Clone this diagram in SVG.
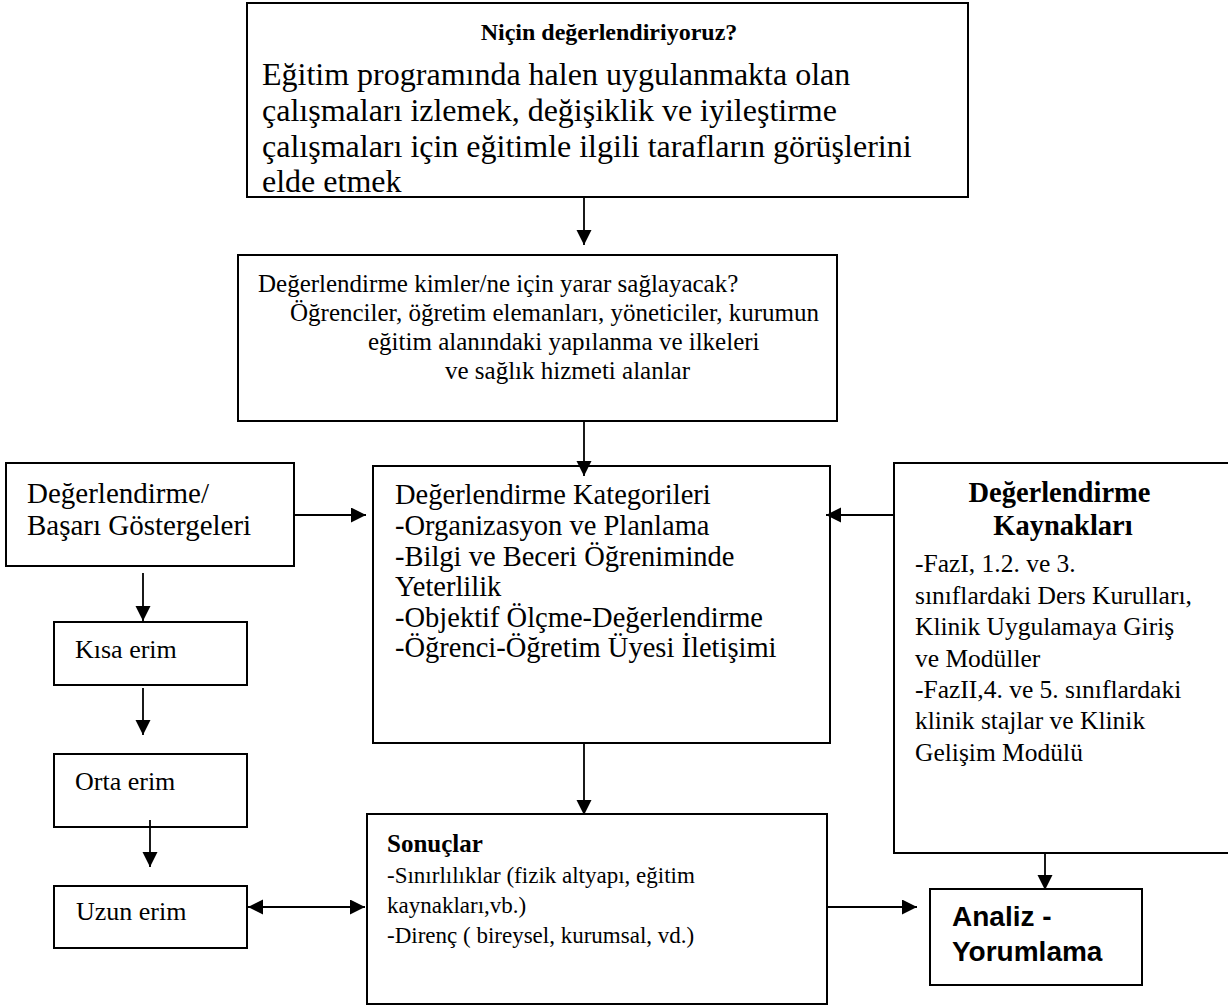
<svg xmlns="http://www.w3.org/2000/svg" width="1228" height="1006" viewBox="0 0 1228 1006">
<style>
.box{fill:#fff;stroke:#000;stroke-width:2}
.t{font-family:"Liberation Serif","Times New Roman",serif;fill:#000}
.b{font-weight:bold}
.s{font-family:"Liberation Sans",Arial,sans-serif;font-weight:bold;fill:#000}
.c{fill:none;stroke:#000;stroke-width:1.8}
</style>
<defs>
<marker id="ah" markerUnits="userSpaceOnUse" markerWidth="16" markerHeight="16" refX="15" refY="7.5" orient="auto-start-reverse" viewBox="0 0 16 16">
<path d="M0,0 L15,7.5 L0,15 z" fill="#000"/>
</marker>
</defs>
<rect width="1228" height="1006" fill="#fff"/>

<g id="neden">
<rect class="box" x="247" y="3" width="721" height="194"/>
<text class="t b" x="609" y="40" font-size="24" text-anchor="middle">Niçin değerlendiriyoruz?</text>
<text class="t" font-size="32">
<tspan x="262" y="85">Eğitim programında halen uygulanmakta olan</tspan>
<tspan x="262" y="121">çalışmaları izlemek, değişiklik ve iyileştirme</tspan>
<tspan x="262" y="157">çalışmaları için eğitimle ilgili tarafların görüşlerini</tspan>
<tspan x="262" y="192">elde etmek</tspan>
</text>
</g>

<g id="kimler">
<rect class="box" x="238" y="255" width="599" height="166"/>
<text class="t" font-size="25">
<tspan x="258" y="292">Değerlendirme kimler/ne için yarar sağlayacak?</tspan>
<tspan x="290" y="321">Öğrenciler, öğretim elemanları, yöneticiler, kurumun</tspan>
<tspan x="368" y="350">eğitim alanındaki yapılanma ve ilkeleri</tspan>
<tspan x="445" y="379">ve sağlık hizmeti alanlar</tspan>
</text>
</g>

<g id="gostergeler">
<rect class="box" x="6" y="463" width="288" height="103"/>
<text class="t" font-size="29">
<tspan x="27" y="503">Değerlendirme/</tspan>
<tspan x="27" y="535">Başarı Göstergeleri</tspan>
</text>
</g>

<g id="kategoriler">
<rect class="box" x="373" y="466" width="457" height="277"/>
<text class="t" font-size="28.5">
<tspan x="395" y="504">Değerlendirme Kategorileri</tspan>
<tspan x="395" y="535">-Organizasyon ve Planlama</tspan>
<tspan x="395" y="566">-Bilgi ve Beceri Öğreniminde</tspan>
<tspan x="395" y="596">Yeterlilik</tspan>
<tspan x="395" y="627">-Objektif Ölçme-Değerlendirme</tspan>
<tspan x="395" y="657">-Öğrenci-Öğretim Üyesi İletişimi</tspan>
</text>
</g>

<g id="kaynaklar">
<rect class="box" x="894" y="463" width="350" height="390"/>
<text class="t b" font-size="28.5" text-anchor="middle">
<tspan x="1063" y="502">Değerlendirme</tspan>
<tspan x="1063" y="535">Kaynakları</tspan>
</text>
<text class="t" font-size="25.5">
<tspan x="915" y="572">-FazI, 1.2. ve 3.</tspan>
<tspan x="915" y="604">sınıflardaki Ders Kurulları,</tspan>
<tspan x="915" y="635">Klinik Uygulamaya Giriş</tspan>
<tspan x="915" y="667">ve Modüller</tspan>
<tspan x="915" y="698">-FazII,4. ve 5. sınıflardaki</tspan>
<tspan x="915" y="729">klinik stajlar ve Klinik</tspan>
<tspan x="915" y="761">Gelişim Modülü</tspan>
</text>
</g>

<g id="kisa">
<rect class="box" x="54" y="622" width="193" height="63"/>
<text class="t" x="75" y="658" font-size="26">Kısa erim</text>
</g>

<g id="orta">
<rect class="box" x="54" y="754" width="193" height="73"/>
<text class="t" x="75" y="790" font-size="26">Orta erim</text>
</g>

<g id="uzun">
<rect class="box" x="54" y="886" width="193" height="62"/>
<text class="t" x="76" y="920" font-size="26">Uzun erim</text>
</g>

<g id="sonuclar">
<rect class="box" x="367" y="814" width="460" height="190"/>
<text class="t b" x="387" y="852" font-size="25">Sonuçlar</text>
<text class="t" font-size="23">
<tspan x="387" y="883">-Sınırlılıklar (fizik altyapı, eğitim</tspan>
<tspan x="387" y="913">kaynakları,vb.)</tspan>
<tspan x="387" y="943">-Direnç ( bireysel, kurumsal, vd.)</tspan>
</text>
</g>

<g id="analiz">
<rect class="box" x="930" y="889" width="212" height="96" stroke-width="2.5"/>
<text class="s" font-size="28">
<tspan x="952" y="926">Analiz -</tspan>
<tspan x="952" y="961">Yorumlama</tspan>
</text>
</g>

<g id="connectors">
<line class="c" x1="584" y1="197" x2="584" y2="245" marker-end="url(#ah)"/>
<line class="c" x1="584" y1="421" x2="584" y2="476" marker-end="url(#ah)"/>
<line class="c" x1="294" y1="515" x2="366" y2="515" marker-end="url(#ah)"/>
<line class="c" x1="894" y1="515" x2="826" y2="515" marker-end="url(#ah)"/>
<line class="c" x1="143" y1="573" x2="143" y2="621" marker-end="url(#ah)"/>
<line class="c" x1="143" y1="688" x2="143" y2="735" marker-end="url(#ah)"/>
<line class="c" x1="150" y1="820" x2="150" y2="867" marker-end="url(#ah)"/>
<line class="c" x1="248" y1="907" x2="365" y2="907" marker-start="url(#ah)" marker-end="url(#ah)"/>
<line class="c" x1="584" y1="743" x2="584" y2="815" marker-end="url(#ah)"/>
<line class="c" x1="827" y1="907" x2="917" y2="907" marker-end="url(#ah)"/>
<line class="c" x1="1045" y1="853" x2="1045" y2="890" marker-end="url(#ah)"/>
</g>
</svg>
